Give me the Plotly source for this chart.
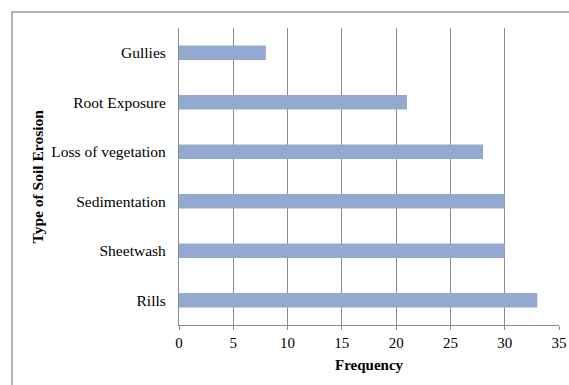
import plotly.graph_objects as go

# Soil erosion types and how often each was recorded
categories = ["Rills", "Sheetwash", "Sedimentation", "Loss of vegetation", "Root Exposure", "Gullies"]
frequency = [33, 30, 30, 28, 21, 8]
x_ticks = [0, 5, 10, 15, 20, 25, 30, 35]

FONT = "Liberation Serif, Times New Roman, serif"
GRID = "#8c8c8c"

fig = go.Figure(
    go.Bar(
        x=frequency,
        y=categories,
        orientation="h",
        marker=dict(color="#94a9d0", line=dict(width=0)),
        width=0.29,
    )
)

fig.update_layout(
    width=569,
    height=385,
    margin=dict(l=179, r=10, t=28, b=60),
    paper_bgcolor="white",
    plot_bgcolor="white",
    showlegend=False,
    font=dict(family=FONT, size=15, color="black"),
    xaxis=dict(
        range=[0, 35],
        tickvals=x_ticks,
        automargin=False,
        showgrid=True,
        gridcolor=GRID,
        gridwidth=1.2,
        showline=True,
        linecolor=GRID,
        linewidth=1.2,
        ticks="outside",
        ticklen=4,
        tickcolor=GRID,
        zeroline=False,
        tickfont=dict(family=FONT, size=15),
    ),
    yaxis=dict(
        categoryorder="array",
        categoryarray=categories,
        range=[-0.5, 5.5],
        automargin=False,
        showgrid=False,
        showline=True,
        linecolor=GRID,
        linewidth=1.2,
        ticks="",
        ticklabelstandoff=9,
        tickfont=dict(family=FONT, size=15.5),
    ),
    shapes=[
        dict(
            type="rect", xref="paper", yref="paper",
            x0=-167 / 380, x1=1.05, y0=-0.3, y1=1 + 16 / 297,
            line=dict(color="#9a9a9a", width=1.5),
            fillcolor="rgba(0,0,0,0)",
            layer="below",
        )
    ],
    annotations=[
        dict(
            text="<b>Type of Soil Erosion</b>",
            textangle=-90,
            xref="paper", yref="paper",
            x=-142 / 380, y=0.5,
            xanchor="center", yanchor="middle",
            showarrow=False,
            font=dict(family=FONT, size=15.5),
        ),
        dict(
            text="<b>Frequency</b>",
            xref="paper", yref="paper",
            x=0.5, y=-40 / 297,
            xanchor="center", yanchor="middle",
            showarrow=False,
            font=dict(family=FONT, size=15),
        ),
    ],
)

fig.write_html("out.html")
